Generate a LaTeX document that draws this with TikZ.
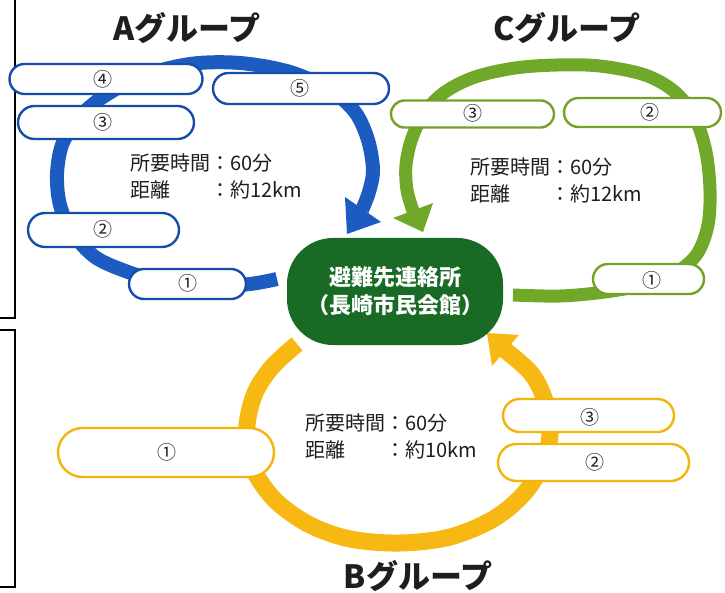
\documentclass[tikz,border=0pt]{standalone}
\usepackage{fontspec}
\setmainfont{Noto Sans CJK JP}
\definecolor{ringA}{RGB}{28,92,192}
\definecolor{boxA}{RGB}{22,76,170}
\definecolor{ringC}{RGB}{112,168,42}
\definecolor{boxC}{RGB}{118,160,40}
\definecolor{ringB}{RGB}{248,184,20}
\definecolor{boxB}{RGB}{244,180,10}
\definecolor{hub}{RGB}{24,106,36}
\definecolor{ink}{RGB}{30,30,30}
\begin{document}
\begin{tikzpicture}[x=1pt,y=-1pt,
  pill/.style={draw=#1, line width=2.4pt, fill=white, inner sep=0pt},
  num/.style={inner sep=0pt, text=ink, font=\fontsize{19}{19}\selectfont},
  ring/.style={draw=#1, line join=round},
  title/.style={inner sep=0pt, text=ink, font=\fontsize{32}{32}\selectfont\bfseries},
  info/.style={inner sep=0pt, anchor=west, text=ink, font=\fontsize{20}{27}\selectfont},
]
\useasboundingbox (0,0) rectangle (725,593);
\fill[white] (0,0) rectangle (725,593);

% frame lines at the left edge
\draw[line width=1.8pt] (0,318) -- (15,318) -- (15,-5);
\draw[line width=1.8pt] (0,330) -- (15,330) -- (15,587) -- (0,587);

% ---- ring A (blue)
\draw[ring=ringA, line width=14pt] plot[smooth, tension=0.55] coordinates {
 (277,279) (250,284) (200,288) (160,281) (128,272) (95,257) (72,232) (60,205)
 (57,175) (62,145) (77,120) (100,99) (140,77) (190,64) (240,63) (290,72)
 (330,90) (355,112) (368,140) (373,170) (369,192) (362,210)};
\fill[ringA] (345,197) -- (381,222) -- (347,234) -- cycle;

% ---- ring C (green)
\draw[ring=ringC, line width=13pt] plot[smooth, tension=0.55] coordinates {
 (513,295) (560,296) (605,292) (642,285) (675,273) (697,254) (708,225)
 (710,190) (706,152) (695,118) (675,92) (645,75) (600,66) (557,65) (515,68)
 (475,77) (445,92) (425,112) (412,138) (406,165) (407,190) (413,211)};
\fill[ringC] (393,218) -- (433,203) -- (423,232) -- cycle;

% ---- ring B (yellow)
\draw[ring=ringB, line width=17pt] plot[smooth, tension=0.55] coordinates {
 (297,344) (272,367) (255,393) (247,425) (249,455) (258,478) (278,503)
 (310,525) (350,539) (400,543) (450,537) (495,518) (527,490) (546,455)
 (550,425) (543,395) (530,372) (505,350)};
\fill[ringB] (487,333) -- (519,335) -- (492,366) -- cycle;

% ---- A boxes
\node[pill=boxA, minimum width=193pt, minimum height=30pt, rounded corners=15pt] (a4) at (106,79) {};
\node[num] (a4t) at (103,79) {④};
\node[pill=boxA, minimum width=176pt, minimum height=31pt, rounded corners=15.5pt] (a5) at (301,88.5) {};
\node[num] (a5t) at (300,88) {⑤};
\node[pill=boxA, minimum width=176pt, minimum height=33pt, rounded corners=16.5pt] (a3) at (106,122.5) {};
\node[num] (a3t) at (103,122) {③};
\node[pill=boxA, minimum width=151pt, minimum height=34pt, rounded corners=17pt] (a2) at (103.5,230) {};
\node[num] (a2t) at (103,229) {②};
\node[pill=boxA, minimum width=117pt, minimum height=30pt, rounded corners=15pt] (a1) at (187.5,284) {};
\node[num] (a1t) at (188,283) {①};

% ---- C boxes
\node[pill=boxC, minimum width=163pt, minimum height=27pt, rounded corners=13.5pt] (c3) at (472.5,114) {};
\node[num] (c3t) at (473,113) {③};
\node[pill=boxC, minimum width=157pt, minimum height=29pt, rounded corners=14.5pt] (c2) at (642.5,112.5) {};
\node[num] (c2t) at (650,112) {②};
\node[pill=boxC, minimum width=111pt, minimum height=30pt, rounded corners=15pt] (c1) at (648.5,279) {};
\node[num] (c1t) at (652,280) {①};

% ---- B boxes
\node[pill=boxB, minimum width=216pt, minimum height=49pt, rounded corners=24.5pt] (b1) at (166,452.5) {};
\node[num] (b1t) at (167,452) {①};
\node[pill=boxB, minimum width=171pt, minimum height=33pt, rounded corners=16.5pt] (b3) at (588.5,415.5) {};
\node[num] (b3t) at (590,417) {③};
\node[pill=boxB, minimum width=191pt, minimum height=37pt, rounded corners=18.5pt] (b2) at (593.5,462.5) {};
\node[num] (b2t) at (595,462) {②};

% ---- info texts
\node[info] (ainfo) at (130,178.7) {\begin{tabular}{@{}l@{}l@{}}所要時間&：60分\\距離&：約12km\end{tabular}};
\node[info] (cinfo) at (470,182.7) {\begin{tabular}{@{}l@{}l@{}}所要時間&：60分\\距離&：約12km\end{tabular}};
\node[info] (binfo) at (305,438.7) {\begin{tabular}{@{}l@{}l@{}}所要時間&：60分\\距離&：約10km\end{tabular}};

% ---- titles
\node[title] (tA) at (187,28) {Aグループ};
\node[title] (tC) at (567,28) {Cグループ};
\node[title] (tB) at (418,576) {Bグループ};

% ---- hub
\node[fill=hub, minimum width=216pt, minimum height=107pt, rounded corners=46pt,
      text=white, font=\fontsize{22}{28}\selectfont\bfseries, align=center, inner sep=0pt]
      (hub) at (395,291.5) {避難先連絡所\\（長崎市民会館）};
\end{tikzpicture}
\end{document}
